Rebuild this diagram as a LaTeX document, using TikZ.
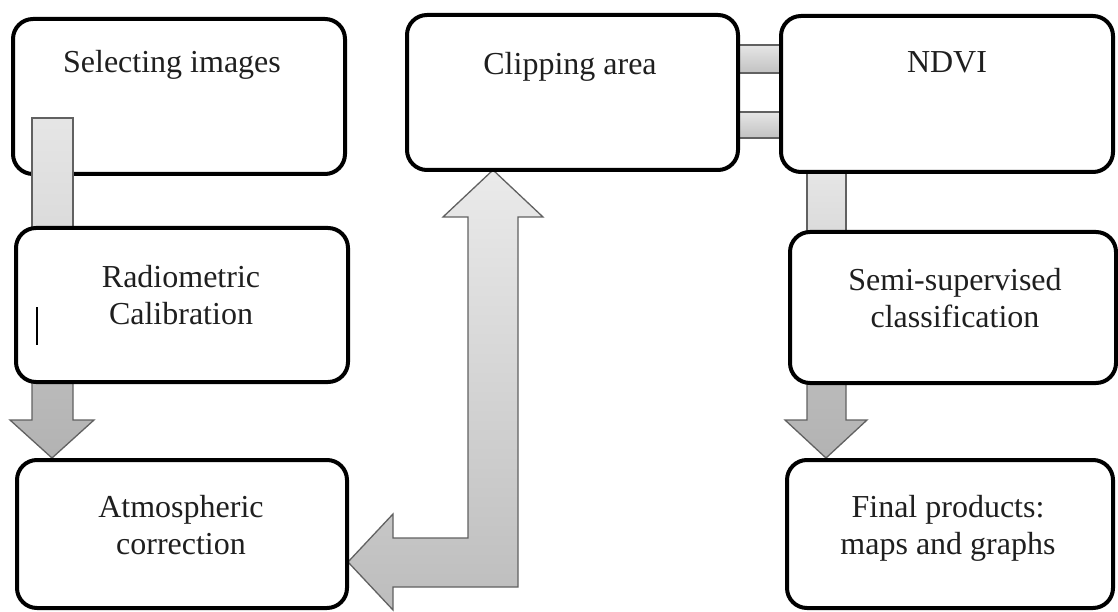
\documentclass[tikz,border=0pt]{standalone}
\usepackage{fontspec}
\setmainfont{Liberation Serif}
\usetikzlibrary{calc}
\pgfdeclarelayer{back}
\pgfdeclarelayer{low}
\pgfdeclarelayer{mid}
\pgfsetlayers{back,low,mid,main}
\begin{document}
\begin{tikzpicture}[x=1pt,y=-1pt,
  box/.style={draw=black, line width=4pt, rounded corners=20pt, fill=white, inner sep=0pt, outer sep=0pt},
  txt/.style={font=\fontsize{32}{37}\selectfont, text=black!88, align=center, anchor=base, inner sep=0pt},
  lightarrow/.style={draw=black!62, line width=1.3pt, top color=black!8, bottom color=black!26},
  flatlight/.style={draw=black!62, line width=1.3pt, top color=black!10, bottom color=black!14},
  bararrow/.style={draw=black!62, line width=1.3pt, top color=black!10, bottom color=black!24},
  darkarrow/.style={draw=black!62, line width=1.3pt, top color=black!27, bottom color=black!30},
]
\useasboundingbox (0,0) rectangle (1118,612);
\begin{pgfonlayer}{back}
  \fill[white] (0,0) rectangle (1118,612);
\end{pgfonlayer}

% boxes
\begin{pgfonlayer}{low}
  \node[box, minimum width=332pt, minimum height=155pt] (sel) at (179,96.5) {};
\end{pgfonlayer}
\node[box, minimum width=331pt, minimum height=155pt] (clip) at (572.5,92.5) {};
\node[box, minimum width=332pt, minimum height=156pt] (ndvi) at (947,94) {};
\node[box, minimum width=332pt, minimum height=154pt] (rad) at (182,305) {};
\node[box, minimum width=330pt, minimum height=148pt] (atm) at (182,534) {};
\node[box, minimum width=326pt, minimum height=151pt] (semi) at (953,307.5) {};
\node[box, minimum width=326pt, minimum height=148pt] (fin) at (950,534) {};

% texts (base anchor = baseline of last line)
\node[txt] (tsel) at (172,73) {Selecting images};
\node[txt] (tclip) at (570,75) {Clipping area};
\node[txt] (tndvi) at (947,73) {NDVI};
\node[txt] (trad) at (181,324) {Radiometric\\Calibration};
\node[txt] (tatm) at (181,554) {Atmospheric\\correction};
\node[txt] (tsemi) at (955,327) {Semi-supervised\\classification};
\node[txt] (tfin) at (948,554) {Final products:\\maps and graphs};

% stray cursor mark
\draw[line width=1.5pt] ($(rad.west)+(21,2)$) coordinate (c1) -- ($(rad.west)+(21,40)$) coordinate (c2);

% Selecting images -> Radiometric (bar over first box)
\begin{pgfonlayer}{mid}
  \path[flatlight] ($(sel.south west)+(19,-56)$) rectangle ($(rad.north west)+(57,0)$);
\end{pgfonlayer}

\begin{pgfonlayer}{back}
  % Radiometric -> Atmospheric
  \path[darkarrow] ($(rad.south)+(-150,0)$) -- ++(0,38) -- ++(-22,0) -- ++(42,38)
     -- ++(42,-38) -- ++(-21,0) -- ++(0,-38) -- cycle;
  % Atmospheric <-> Clipping (L arrow)
  \path[lightarrow] ($(clip.south)+(-79.5,0)$) -- ++(50,47) -- ++(-25,0) -- ++(0,370)
     -- ++(-125,0) -- ++(0,23) -- ++(-45,-48) -- ++(45,-48) -- ++(0,24) -- ++(75,0)
     -- ++(0,-321) -- ++(-25,0) -- cycle;
  % Clipping = NDVI
  \path[bararrow] ($(clip.east)+(0,-47.5)$) rectangle ($(ndvi.west)+(0,-21)$);
  \path[bararrow] ($(clip.east)+(0,19.5)$) rectangle ($(ndvi.west)+(0,44)$);
  % NDVI -> Semi-supervised
  \path[flatlight] ($(ndvi.south)+(-140,0)$) rectangle ($(semi.north)+(-107,0)$);
  % Semi-supervised -> Final products
  \path[darkarrow] ($(semi.south)+(-146,0)$) -- ++(0,37) -- ++(-22,0) -- ++(41,38)
     -- ++(41,-38) -- ++(-21,0) -- ++(0,-37) -- cycle;
\end{pgfonlayer}
\end{tikzpicture}
\end{document}
